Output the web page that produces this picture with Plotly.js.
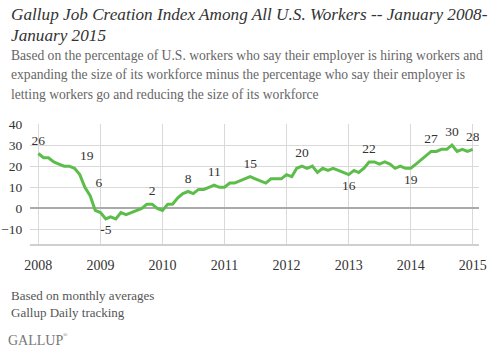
<!DOCTYPE html>
<html>
<head>
<meta charset="utf-8">
<script src="https://cdn.plot.ly/plotly-3.0.1.min.js"></script>
<style>html,body{margin:0;padding:0;background:#fff;}#chart{width:494px;height:353px;}</style>
</head>
<body>
<div id="chart"></div>
<script>
// Monthly Job Creation Index values, one array per year
const v2008 = [26, 24, 24, 22, 21, 20, 20, 19, 16, 10, 6, -1];
const v2009 = [-2, -5, -4, -5, -2, -3, -2, -1, 0, 2, 2, 0];
const v2010 = [-1, 2, 2, 5, 7, 8, 7, 9, 9, 10, 11, 10];
const v2011 = [10, 12, 12, 13, 14, 15, 14, 13, 12, 14, 14, 14];
const v2012 = [16, 15, 19, 20, 19, 20, 17, 19, 18, 19, 18, 17];
const v2013 = [16, 18, 17, 19, 22, 22, 21, 22, 21, 19, 20, 19];
const v2014 = [19, 21, 23, 25, 27, 27, 28, 28, 30, 27, 28, 27];
const v2015 = [28];
const years = [2008, 2009, 2010, 2011, 2012, 2013, 2014, 2015];

// Labelled points
const labelDates = ['2008-01-01','2008-08-01','2008-11-01','2009-02-01','2009-11-01','2010-06-01','2010-11-01','2011-06-01','2012-04-01','2013-01-01','2013-05-01','2014-01-01','2014-05-01','2014-09-01','2015-01-01'];
const labelValues = [26, 19, 6, -5, 2, 8, 11, 15, 20, 16, 22, 19, 27, 30, 28];
const labelPos = ['top center','top right','top right','bottom center','top center','top center','top center','top center','top center','bottom center','top center','bottom center','top center','top center','top center'];

const yTicks = [-10, 0, 10, 20, 30, 40];

const series = [v2008, v2009, v2010, v2011, v2012, v2013, v2014, v2015];
const dates = [], values = [];
series.forEach((arr, i) => arr.forEach((v, m) => {
  dates.push(years[i] + '-' + String(m + 1).padStart(2, '0') + '-01');
  values.push(v);
}));

const serif = 'Liberation Serif, DejaVu Serif, serif';
const W = 494, H = 353, ML = 30, MR = 15, MT = 124, MB = 109;
const PW = W - ML - MR, PH = H - MT - MB;
const px = x => (x - ML) / PW;
const py = y => (H - MB - y) / PH;

const traces = [
  {x: dates, y: values, type: 'scatter', mode: 'lines',
   line: {color: '#5dbd4b', width: 3}, hoverinfo: 'skip'},
  {x: labelDates, y: labelValues, type: 'scatter', mode: 'markers+text',
   marker: {size: 7, opacity: 0},
   text: labelValues.map(String), textposition: labelPos,
   textfont: {family: serif, size: 13.5, color: '#333'}, hoverinfo: 'skip'}
];

function note(text, x, y, size, color, italic) {
  return {text: text, xref: 'paper', yref: 'paper', x: px(x), y: py(y),
    xanchor: 'left', yanchor: 'middle', showarrow: false, align: 'left',
    font: {family: serif, size: size, color: color, style: italic ? 'italic' : 'normal'}};
}

const layout = {
  width: W, height: H,
  margin: {l: ML, r: MR, t: MT, b: MB, pad: 0},
  paper_bgcolor: '#fff', plot_bgcolor: '#fff',
  showlegend: false,
  xaxis: {
    type: 'date', range: ['2007-11-13', '2015-02-07'],
    tick0: '2008-01-01', dtick: 'M12', tickformat: '%Y',
    showgrid: true, gridcolor: '#d9d9d9', gridwidth: 1,
    showline: true, linecolor: '#cfcfcf', linewidth: 2,
    ticks: 'outside', ticklen: 7, tickcolor: 'rgba(0,0,0,0)',
    tickfont: {family: serif, size: 14, color: '#333'},
    zeroline: false, fixedrange: true
  },
  yaxis: {
    range: [-16.9, 40], tickvals: yTicks,
    showgrid: true, gridcolor: '#d9d9d9', gridwidth: 1,
    zeroline: true, zerolinecolor: '#aaaaaa', zerolinewidth: 2,
    ticks: 'outside', ticklen: 4, tickcolor: 'rgba(0,0,0,0)',
    tickfont: {family: serif, size: 13.5, color: '#333'},
    showline: false, fixedrange: true
  },
  annotations: [
    note('Gallup Job Creation Index Among All U.S. Workers -- January 2008-', 9, 15, 17.2, '#333', true),
    note('January 2015', 9, 35, 17.2, '#333', true),
    note('Based on the percentage of U.S. workers who say their employer is hiring workers and', 9, 55, 13.6, '#666', false),
    note('expanding the size of its workforce minus the percentage who say their employer is', 9, 75, 13.6, '#666', false),
    note('letting workers go and reducing the size of its workforce', 9, 94, 13.6, '#666', false),
    note('Based on monthly averages', 9, 295, 13, '#555', false),
    note('Gallup Daily tracking', 9, 312, 13, '#555', false),
    note('GALLUP', 6, 340, 14, '#777', false),
    note('®', 61, 335, 6, '#777', false)
  ]
};

Plotly.newPlot('chart', traces, layout, {displayModeBar: false, staticPlot: true});
</script>
</body>
</html>
